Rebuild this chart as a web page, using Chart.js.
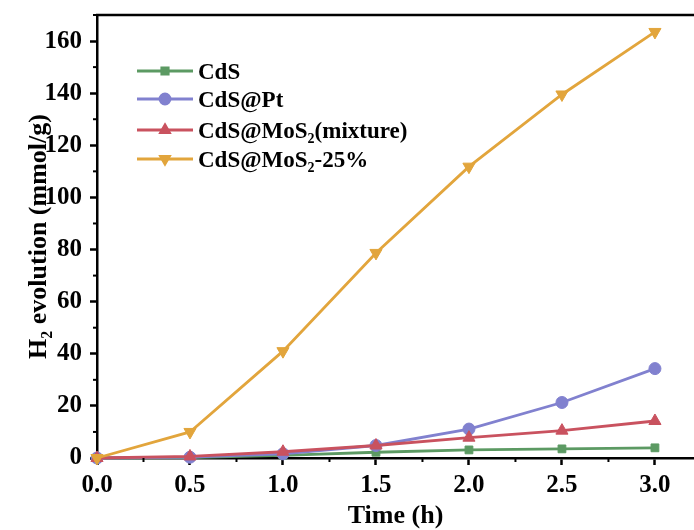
<!DOCTYPE html>
<html>
<head>
<meta charset="utf-8">
<script src="https://cdn.jsdelivr.net/npm/chart.js@4.4.1/dist/chart.umd.min.js"></script>
<style>
  html, body { margin: 0; padding: 0; background: #fff; }
  #wrap { width: 694px; height: 530px; position: relative; }
</style>
</head>
<body>
<div id="wrap"><canvas id="h2Chart"></canvas></div>
<script>
// data
const times = [0, 0.5, 1.0, 1.5, 2.0, 2.5, 3.0];
const cds = [0, 0.2, 1.0, 2.2, 3.1, 3.5, 3.9];
const cdsPt = [0, 0.3, 1.6, 4.8, 11.1, 21.3, 34.3];
const cdsMosMix = [0, 0.6, 2.4, 4.8, 7.8, 10.5, 14.2];
const cdsMos25 = [0, 10, 41, 78.7, 111.8, 139.5, 163.5];
const xTicks = [0, 0.5, 1.0, 1.5, 2.0, 2.5, 3.0];
const yTicks = [0, 20, 40, 60, 80, 100, 120, 140, 160];
// legend labels, subscript parts marked with sub
const legendLabels = [
  [{ t: 'CdS' }],
  [{ t: 'CdS@Pt' }],
  [{ t: 'CdS@MoS' }, { t: '2', sub: true }, { t: '(mixture)' }],
  [{ t: 'CdS@MoS' }, { t: '2', sub: true }, { t: '-25%' }]
];
const yTitle = [{ t: 'H' }, { t: '2', sub: true }, { t: ' evolution (mmol/g)' }];

const FONT = '"Liberation Serif", "Times New Roman", serif';
Chart.defaults.color = '#000';
Chart.defaults.font.family = FONT;

const green = '#5c9a63';
const purple = '#8181cf';
const red = '#c9525f';
const gold = '#e2a53c';

const toXY = arr => arr.map((v, i) => ({ x: times[i], y: v }));

const makeSet = (label, arr, color, style, rot, order) => ({
  label: label,
  data: toXY(arr),
  borderColor: color,
  backgroundColor: color,
  borderWidth: 2.8,
  pointStyle: style,
  pointRotation: rot,
  pointRadius: style === 'rect' ? 5.5 : (style === 'circle' ? 6 : 7),
  pointBorderWidth: 1,
  pointHoverRadius: 6,
  clip: false,
  order: order
});

// draws mixed normal/subscript text starting at x, baseline y
function drawParts(ctx, parts, x, y, size) {
  let cx = x;
  parts.forEach(p => {
    const s = p.sub ? Math.round(size * 0.62) : size;
    ctx.font = 'bold ' + s + 'px ' + FONT;
    ctx.fillText(p.t, cx, p.sub ? y + size * 0.22 : y);
    cx += ctx.measureText(p.t).width;
  });
  return cx - x;
}
function partsWidth(ctx, parts, size) {
  let w = 0;
  parts.forEach(p => {
    const s = p.sub ? Math.round(size * 0.62) : size;
    ctx.font = 'bold ' + s + 'px ' + FONT;
    w += ctx.measureText(p.t).width;
  });
  return w;
}

const decor = {
  id: 'decor',
  afterDraw(chart) {
    const ctx = chart.ctx;
    const area = chart.chartArea;
    const xs = chart.scales.x, ys = chart.scales.y;
    ctx.save();
    ctx.strokeStyle = '#000';
    ctx.lineWidth = 2.5;
    // top frame
    ctx.beginPath();
    ctx.moveTo(area.left - 1, area.top);
    ctx.lineTo(area.right, area.top);
    ctx.stroke();
    // minor ticks
    ctx.lineWidth = 2;
    for (let i = 0; i < yTicks.length; i++) {
      const next = i + 1 < yTicks.length ? yTicks[i + 1] : yTicks[i] + (yTicks[1] - yTicks[0]);
      const v = (yTicks[i] + next) / 2;
      if (v > ys.max) continue;
      const py = ys.getPixelForValue(v);
      ctx.beginPath();
      ctx.moveTo(area.left, py);
      ctx.lineTo(area.left - 4, py);
      ctx.stroke();
    }
    for (let i = 0; i < xTicks.length; i++) {
      const next = i + 1 < xTicks.length ? xTicks[i + 1] : xTicks[i] + (xTicks[1] - xTicks[0]);
      const v = (xTicks[i] + next) / 2;
      if (v > xs.max) continue;
      const px = xs.getPixelForValue(v);
      ctx.beginPath();
      ctx.moveTo(px, area.bottom);
      ctx.lineTo(px, area.bottom + 4);
      ctx.stroke();
    }
    // y title (rotated, with subscript)
    ctx.fillStyle = '#000';
    ctx.textBaseline = 'alphabetic';
    ctx.textAlign = 'left';
    const tSize = 26;
    const tw = partsWidth(ctx, yTitle, tSize);
    ctx.save();
    ctx.translate(37, (area.top + area.bottom) / 2);
    ctx.rotate(-Math.PI / 2);
    drawParts(ctx, yTitle, -tw / 2, 9, tSize);
    ctx.restore();
    // legend
    const rows = [71, 99, 130, 159];
    chart.data.datasets.forEach((ds, i) => {
      const y = rows[i];
      ctx.strokeStyle = ds.borderColor;
      ctx.lineWidth = 2.8;
      ctx.beginPath();
      ctx.moveTo(137, y);
      ctx.lineTo(193, y);
      ctx.stroke();
      ctx.fillStyle = ds.backgroundColor;
      Chart.helpers.drawPoint(ctx, {
        pointStyle: ds.pointStyle,
        rotation: ds.pointRotation,
        radius: ds.pointStyle === 'rect' ? 4.5 : 5,
        borderWidth: 1
      }, 165, y);
      ctx.fillStyle = '#000';
      drawParts(ctx, legendLabels[i], 198, y + 8, 23);
    });
    ctx.restore();
  }
};

new Chart(document.getElementById('h2Chart').getContext('2d'), {
  type: 'line',
  data: {
    datasets: [
      makeSet('CdS', cds, green, 'rect', 0, 3),
      makeSet('CdS@Pt', cdsPt, purple, 'circle', 0, 2),
      makeSet('CdS@MoS2(mixture)', cdsMosMix, red, 'triangle', 0, 1),
      makeSet('CdS@MoS2-25%', cdsMos25, gold, 'triangle', 180, 0)
    ]
  },
  options: {
    responsive: true,
    maintainAspectRatio: false,
    animation: false,
    layout: { autoPadding: false, padding: { top: 15, right: 0, left: 0, bottom: 0 } },
    plugins: {
      legend: { display: false },
      tooltip: { enabled: false }
    },
    scales: {
      x: {
        type: 'linear',
        min: 0,
        max: 3.21,
        afterBuildTicks: s => { s.ticks = xTicks.map(v => ({ value: v })); },
        afterFit: s => { s.height = 72; s.paddingLeft = 0; s.paddingRight = 0; },
        ticks: {
          font: { size: 25, weight: 'bold' },
          padding: 6,
          maxRotation: 0,
          callback: v => v.toFixed(1)
        },
        grid: {
          drawOnChartArea: false,
          tickLength: 7,
          tickWidth: 2.5,
          tickColor: '#000'
        },
        border: { display: true, color: '#000', width: 2.5 },
        title: {
          display: true,
          text: 'Time (h)',
          font: { size: 26, weight: 'bold' },
          padding: { top: 0, bottom: -2 }
        }
      },
      y: {
        type: 'linear',
        min: 0,
        max: 170,
        afterBuildTicks: s => { s.ticks = yTicks.map(v => ({ value: v })); },
        afterFit: s => { s.width = 97; s.paddingTop = 0; s.paddingBottom = 0; },
        ticks: {
          font: { size: 25, weight: 'bold' },
          padding: 8
        },
        grid: {
          drawOnChartArea: false,
          tickLength: 7,
          tickWidth: 2.5,
          tickColor: '#000'
        },
        border: { display: true, color: '#000', width: 2.5 }
      }
    }
  },
  plugins: [decor]
});
</script>
</body>
</html>
